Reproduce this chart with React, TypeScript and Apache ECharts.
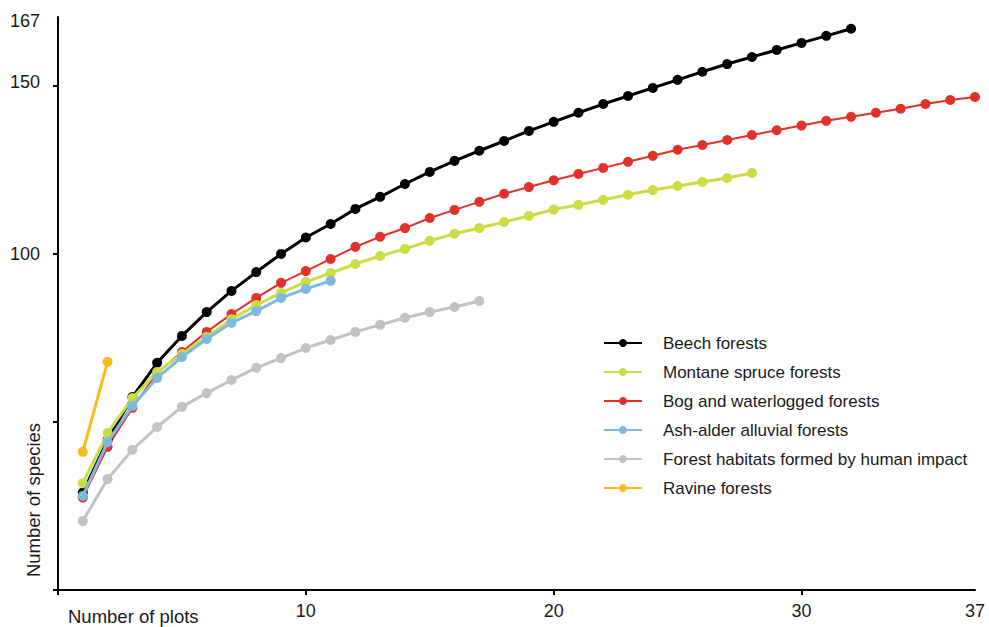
import React, { useEffect, useRef } from "react";
import * as echarts from "echarts";

const seriesNames = [
  "Beech forests",
  "Montane spruce forests",
  "Bog and waterlogged forests",
  "Ash-alder alluvial forests",
  "Forest habitats formed by human impact",
  "Ravine forests",
];

const beech = [29, 44.6, 57.4, 67.6, 75.6, 82.7, 89.0, 94.6, 100.0, 104.9, 108.9, 113.4, 117.0, 120.8, 124.4, 127.7, 130.7, 133.6, 136.6, 139.3, 142.0, 144.6, 147.0, 149.4, 151.8, 154.2, 156.5, 158.6, 160.7, 162.8, 164.9, 167.0];
const montane = [31.8, 46.7, 57.1, 64.9, 70.2, 75.3, 80.6, 84.8, 88.4, 91.7, 94.3, 97.0, 99.4, 101.5, 103.9, 106.0, 107.7, 109.5, 111.3, 113.2, 114.6, 116.1, 117.6, 119.0, 120.2, 121.4, 122.6, 124.1];
const bog = [27.5, 42.6, 54.2, 64.6, 70.8, 76.8, 82.1, 86.9, 91.4, 94.9, 98.5, 102.1, 105.1, 107.7, 110.7, 113.1, 115.5, 117.9, 119.9, 121.9, 123.8, 125.6, 127.4, 129.2, 131.0, 132.4, 133.9, 135.4, 136.8, 138.2, 139.6, 140.8, 142.0, 143.2, 144.6, 145.8, 146.7];
const ashAlder = [28.0, 44.0, 54.8, 63.1, 69.3, 74.7, 79.5, 83.0, 86.9, 89.6, 92.0];
const humanImpact = [20.5, 33.0, 41.7, 48.5, 54.5, 58.6, 62.5, 66.1, 69.0, 72.0, 74.4, 76.8, 78.9, 81.0, 82.7, 84.2, 86.0];
const ravine = [41.1, 67.9];

const xTickValues = [0, 10, 20, 30];
const xLabelValues = [10, 20, 30, 37];
const yTickValues = [0, 50, 100, 150];
const yLabelValues = [100, 150, 167];

const colors = ["#000000", "#cbdd45", "#e2302a", "#7db8e1", "#c3c1c1", "#f8bb1c"];
const widths = [3, 3, 2, 3, 3, 3];
const zs = [3, 4, 3, 5, 2, 6];

const toPoints = (arr: number[]) => arr.map((v, i) => [i + 1, v]);

export default function App() {
  const ref = useRef<HTMLDivElement>(null);
  useEffect(() => {
    if (!ref.current) return;
    const chart = echarts.init(ref.current, undefined, { renderer: "svg" });
    const datas = [beech, montane, bog, ashAlder, humanImpact, ravine];
    const font = "Liberation Sans, Arial, sans-serif";
    const txt = "#1a1a1a";
    chart.setOption({
      animation: false,
      textStyle: { fontFamily: font },
      grid: { left: 58, right: 14, top: 17, bottom: 37 },
      legend: {
        orient: "vertical",
        left: 598,
        top: 329,
        itemWidth: 38,
        itemHeight: 10,
        itemGap: 11,
        textStyle: { fontSize: 17, lineHeight: 18, color: txt, fontFamily: font, padding: [0, 0, 0, 16] },
        data: seriesNames,
      },
      xAxis: {
        type: "value",
        min: 0,
        max: 37,
        axisLine: { show: true, lineStyle: { color: "#000", width: 2 } },
        axisTick: { show: true, customValues: xTickValues, length: 5, lineStyle: { color: "#000", width: 2 } },
        axisLabel: { customValues: xLabelValues, fontSize: 18, color: txt, margin: 12, fontFamily: font },
        splitLine: { show: false },
      },
      yAxis: {
        type: "value",
        min: 0,
        max: 170.5,
        axisLine: { show: true, lineStyle: { color: "#000", width: 2 } },
        axisTick: { show: true, customValues: yTickValues, length: 5, lineStyle: { color: "#000", width: 2 } },
        axisLabel: {
          customValues: yLabelValues,
          fontSize: 18,
          color: txt,
          margin: 18,
          fontFamily: font,
          formatter: (v: number) => (v === 167 ? "{a|167}" : v === 150 ? "{b|150}" : String(v)),
          rich: {
            a: { fontSize: 18, color: txt, fontFamily: font, padding: [0, 0, 16, 0] },
            b: { fontSize: 18, color: txt, fontFamily: font, padding: [0, 0, 8, 0] },
          },
        },
        splitLine: { show: false },
      },
      graphic: [
        {
          type: "text",
          left: 68,
          top: 607,
          style: { text: "Number of plots", fontSize: 18.5, fill: txt, fontFamily: font },
        },
        {
          type: "text",
          x: 33,
          y: 500,
          rotation: Math.PI / 2,
          style: {
            text: "Number of species",
            fontSize: 18.5,
            fill: txt,
            fontFamily: font,
            align: "center",
            verticalAlign: "middle",
          },
        },
      ],
      series: seriesNames.map((name, i) => ({
        name,
        type: "line",
        data: toPoints(datas[i]),
        symbol: "circle",
        symbolSize: 10,
        smooth: false,
        z: zs[i],
        lineStyle: { color: colors[i], width: widths[i] },
        itemStyle: { color: colors[i] },
      })),
    });
    return () => chart.dispose();
  }, []);
  return <div ref={ref} style={{ width: 989, height: 627, position: "absolute", left: 0, top: 0 }} />;
}
